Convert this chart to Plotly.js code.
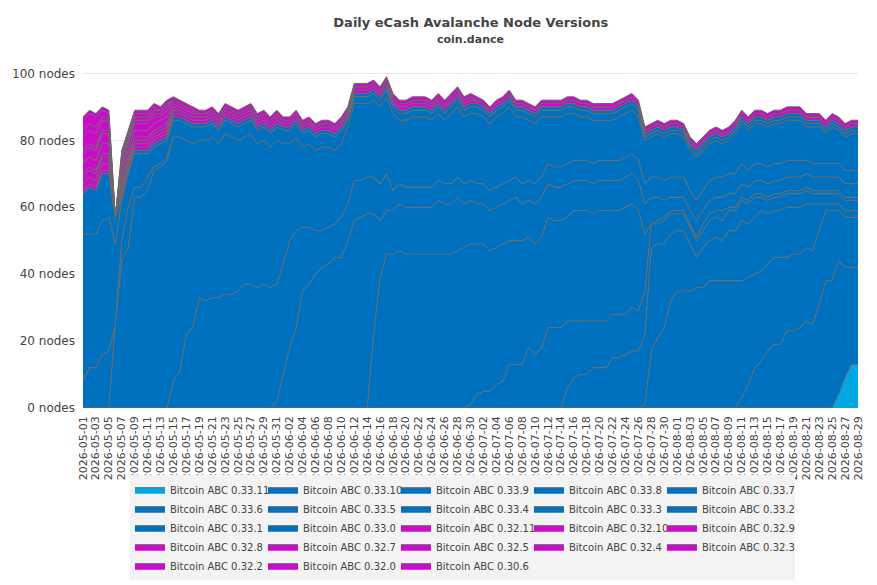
<!DOCTYPE html>
<html>
<head>
<meta charset="utf-8">
<script src="https://cdn.plot.ly/plotly-3.0.1.min.js"></script>
<style>
  html, body { margin: 0; padding: 0; background: #fff; }
  #nodeVersionsChart { width: 877px; height: 585px; }
</style>
</head>
<body>
<div id="nodeVersionsChart"></div>
<script>
// daily node counts per version, 2026-05-01 .. 2026-08-29 (rows of 10 days)
const firstDay = "2026-05-01";
const dayCount = 121;

const abc_0_33_11 = [
  0,0,0,0,0,0,0,0,0,0, 0,0,0,0,0,0,0,0,0,0, 0,0,0,0,0,0,0,0,0,0,
  0,0,0,0,0,0,0,0,0,0, 0,0,0,0,0,0,0,0,0,0, 0,0,0,0,0,0,0,0,0,0,
  0,0,0,0,0,0,0,0,0,0, 0,0,0,0,0,0,0,0,0,0, 0,0,0,0,0,0,0,0,0,0,
  0,0,0,0,0,0,0,0,0,0, 0,0,0,0,0,0,0,0,0,0,
  0,0,0,0,0,0,0,4,9,13,
  13
];
const abc_0_33_10 = [
  0,0,0,0,0,0,0,0,0,0, 0,0,0,0,0,0,0,0,0,0, 0,0,0,0,0,0,0,0,0,0,
  0,0,0,0,0,0,0,0,0,0, 0,0,0,0,0,0,0,0,0,0, 0,0,0,0,0,0,0,0,0,0,
  0,0,0,0,0,0,0,0,0,0, 0,0,0,0,0,0,0,0,0,0, 0,0,0,0,0,0,0,0,0,0,
  0,0,0,0,0,0,0,0,0,0,
  0,0,3,7,12,14,17,19,19,23,
  23,24,26,25,31,38,38,40,33,29,
  29
];
const abc_0_33_9 = [
  0,0,0,0,0,0,0,0,0,0, 0,0,0,0,0,0,0,0,0,0, 0,0,0,0,0,0,0,0,0,0,
  0,0,0,0,0,0,0,0,0,0, 0,0,0,0,0,0,0,0,0,0, 0,0,0,0,0,0,0,0,0,0,
  0,0,0,0,0,0,0,0,0,0, 0,0,0,0,0,0,0,0,0,0,
  0,0,0,0,0,0,0,1,17,21,
  24,32,35,35,35,36,36,38,38,38,
  38,38,35,32,28,27,26,26,26,22,
  23,22,22,22,22,21,21,15,15,15,
  15
];
const abc_0_33_8 = [
  0,0,0,0,0,0,0,0,0,0, 0,0,0,0,0,0,0,0,0,0, 0,0,0,0,0,0,0,0,0,0,
  0,0,0,0,0,0,0,0,0,0, 0,0,0,0,0,0,0,0,0,0, 0,0,0,0,0,0,0,0,0,0,
  0,0,0,0,0,0,0,0,0,0,
  0,0,0,0,0,6,9,10,10,12,
  12,12,15,15,16,17,17,21,31,28,
  25,20,18,18,14,9,12,12,13,12,
  15,15,18,16,17,18,15,14,14,15,
  14,14,13,14,8,2,2,2,2,2,
  2
];
const abc_0_33_7 = [
  0,0,0,0,0,0,0,0,0,0, 0,0,0,0,0,0,0,0,0,0, 0,0,0,0,0,0,0,0,0,0,
  0,0,0,0,0,0,0,0,0,0, 0,0,0,0,0,0,0,0,0,0, 0,0,0,0,0,0,0,0,0,0,
  1,4,5,5,7,8,13,13,13,18,
  16,18,24,24,24,20,17,16,16,14,
  14,14,13,13,12,13,12,13,7,6,
  7,6,5,5,5,5,5,6,6,6,
  6,6,6,6,6,4,4,4,4,4,
  4,4,4,3,3,3,3,3,3,3,
  3
];
const abc_0_33_6 = [
  0,0,0,0,0,0,0,0,0,0, 0,0,0,0,0,0,0,0,0,0, 0,0,0,0,0,0,0,0,0,0,
  0,0,0,0,0,0,0,0,0,0,
  0,0,0,0,0,22,39,46,46,47,
  46,46,46,46,46,46,46,46,47,48,
  48,45,44,42,41,41,37,37,37,33,
  33,33,33,32,32,31,33,33,33,32,
  33,33,31,31,32,31,30,17,0,1,
  1,1,1,1,1,1,2,2,2,3,
  1,1,1,1,1,1,1,1,1,1,
  1,1,1,1,1,1,1,1,1,1,
  1
];
const abc_0_33_5 = [
  0,0,0,0,0,0,0,0,0,0, 0,0,0,0,0,0,0,0,0,0, 0,0,0,0,0,0,0,0,0,0,
  2,10,18,24,35,37,40,42,43,45,
  45,50,56,57,58,36,17,13,13,14,
  14,14,14,14,14,16,15,15,16,13,
  13,12,12,12,12,12,12,13,11,11,
  12,12,10,10,10,10,9,9,9,9,
  9,9,9,9,9,9,9,9,8,7,
  5,4,4,4,4,5,4,4,4,4,
  4,4,4,4,4,4,4,4,4,4,
  4,4,4,4,4,4,4,4,4,4,
  4
];
const abc_0_33_4 = [
  0,0,0,0,0,0,0,0,0,0,
  0,0,0,0,8,11,22,24,33,32,
  33,33,34,34,35,37,37,36,37,36,
  35,33,32,29,19,17,13,11,11,10,
  12,11,12,11,11,11,11,11,6,6,
  6,6,6,6,6,6,6,6,6,6,
  6,6,6,6,6,6,6,6,6,6,
  6,6,6,6,6,6,6,6,6,6,
  6,6,6,6,6,6,6,6,6,6,
  6,6,6,6,6,6,6,6,6,6,
  6,6,6,5,5,5,5,5,5,5,
  5,5,4,4,4,4,4,4,4,4,
  4
];
const abc_0_33_3 = [
  0,0,0,0,0,25,44,48,63,63,
  65,71,72,74,73,70,58,55,47,48,
  48,46,48,47,45,44,45,43,43,42,
  43,36,29,28,24,25,24,25,24,22,
  22,23,23,23,22,23,23,23,23,19,
  20,21,21,21,20,20,19,21,21,20,
  20,21,20,20,21,21,22,18,20,18,
  18,18,14,15,15,15,14,13,13,13,
  12,12,12,13,13,13,13,13,12,13,
  13,13,13,12,12,13,12,11,11,10,
  10,12,12,12,12,12,12,12,12,12,
  12,12,10,11,11,9,11,10,10,11,
  11
];
const abc_0_33_2 = [
  8,12,12,16,17,0,6,12,3,3,
  4,1,1,1,0,0,0,0,0,0,
  0,0,0,0,0,0,0,0,0,0, 0,0,0,0,0,0,0,0,0,0, 0,0,0,0,0,0,0,0,0,0,
  0,0,0,0,0,0,0,0,0,0, 0,0,0,0,0,0,0,0,0,0, 0,0,0,0,0,0,0,0,0,0,
  0,0,0,0,0,0,0,0,0,0, 0,0,0,0,0,0,0,0,0,0, 0,0,0,0,0,0,0,0,0,0,
  0,0,0,0,0,0,0,0,0,0,
  0
];
const abc_0_33_1 = [
  44,40,40,40,40,24,12,10,10,10,
  7,6,6,5,5,5,5,5,4,4,
  4,4,4,4,4,4,4,4,4,4,
  4,4,4,4,4,4,4,4,4,4,
  4,2,2,2,2,2,2,2,2,2,
  2,2,2,2,2,2,2,2,2,2,
  2,2,2,2,2,2,2,2,2,2,
  2,2,2,2,2,2,2,2,2,2,
  2,2,2,2,2,2,2,1,1,1,
  1,1,1,1,1,1,1,1,1,1,
  1,1,1,1,1,1,1,1,1,1,
  1,1,1,1,1,1,1,1,1,1,
  1
];
const abc_0_33_0 = [
  12,14,13,14,13,8,1,1,1,1,
  1,1,1,1,1,1,1,1,1,1, 1,1,1,1,1,1,1,1,1,1, 1,1,1,1,1,1,1,1,1,1,
  1,1,1,1,1,1,1,1,1,1, 1,1,1,1,1,1,1,1,1,1, 1,1,1,1,1,1,1,1,1,1,
  1,1,1,1,1,1,1,1,1,1, 1,1,1,1,1,1,1,1,1,1, 1,1,1,1,1,1,1,1,1,1,
  1,1,1,1,1,1,1,1,1,1, 1,1,1,1,1,1,1,1,1,1,
  1
];

const abc_0_32_11 = [
  1,1,1,1,1,0,1,1,1,1,
  1,1,1,1,1,1,1,1,1,1, 1,1,1,1,1,1,1,1,1,1, 1,1,1,1,1,1,1,1,1,1,
  1,1,1,1,1,1,1,1,1,1, 1,1,1,1,1,1,1,1,1,1, 1,1,1,1,1,1,1,1,1,1,
  1,1,1,1,1,1,1,1,1,1, 1,1,1,1,1,1,1,1,1,1, 1,1,1,1,1,1,1,1,1,1,
  1,1,1,1,1,1,1,1,1,1, 1,1,1,1,1,1,1,1,1,1,
  1
];
const abc_0_32_10 = [
  2,2,2,2,2,0,1,1,1,1,
  1,1,1,1,1,1,1,1,1,1, 1,1,1,1,1,1,1,1,1,1, 1,1,1,1,1,1,1,1,1,1,
  1,1,1,1,1,1,1,1,1,1, 1,1,1,1,1,1,1,1,1,1,
  1,0,0,0,0,0,0,0,0,0,
  0,0,0,0,0,0,0,0,0,0, 0,0,0,0,0,0,0,0,0,0, 0,0,0,0,0,0,0,0,0,0,
  0,0,0,0,0,0,0,0,0,0, 0,0,0,0,0,0,0,0,0,0,
  0
];
const abc_0_32_9 = [
  2,2,2,2,2,0,1,1,1,1,
  1,1,1,1,0,0,0,0,0,0,
  0,0,0,0,0,0,0,0,0,0, 0,0,0,0,0,0,0,0,0,0, 0,0,0,0,0,0,0,0,0,0,
  0,0,0,0,0,0,0,0,0,0, 0,0,0,0,0,0,0,0,0,0, 0,0,0,0,0,0,0,0,0,0,
  0,0,0,0,0,0,0,0,0,0, 0,0,0,0,0,0,0,0,0,0, 0,0,0,0,0,0,0,0,0,0,
  0,0,0,0,0,0,0,0,0,0,
  0
];
const abc_0_32_8 = [
  1,1,1,1,1,0,1,1,1,1,
  1,1,1,1,1,0,0,0,0,0,
  0,0,0,0,0,0,0,0,0,0, 0,0,0,0,0,0,0,0,0,0, 0,0,0,0,0,0,0,0,0,0,
  0,0,0,0,0,0,0,0,0,0, 0,0,0,0,0,0,0,0,0,0, 0,0,0,0,0,0,0,0,0,0,
  0,0,0,0,0,0,0,0,0,0, 0,0,0,0,0,0,0,0,0,0, 0,0,0,0,0,0,0,0,0,0,
  0,0,0,0,0,0,0,0,0,0,
  0
];
const abc_0_32_7 = [
  3,3,3,3,3,0,2,2,2,2,
  2,2,2,2,1,1,1,1,1,1,
  1,1,1,1,1,1,1,1,1,1,
  1,0,0,0,0,0,0,0,0,0,
  0,0,0,0,0,0,0,0,0,0, 0,0,0,0,0,0,0,0,0,0, 0,0,0,0,0,0,0,0,0,0,
  0,0,0,0,0,0,0,0,0,0, 0,0,0,0,0,0,0,0,0,0, 0,0,0,0,0,0,0,0,0,0,
  0,0,0,0,0,0,0,0,0,0, 0,0,0,0,0,0,0,0,0,0,
  0
];
const abc_0_32_5 = [
  3,3,3,3,3,0,2,2,2,2,
  2,2,1,2,1,1,1,1,0,0,
  0,0,0,0,0,0,0,0,0,0, 0,0,0,0,0,0,0,0,0,0, 0,0,0,0,0,0,0,0,0,0,
  0,0,0,0,0,0,0,0,0,0, 0,0,0,0,0,0,0,0,0,0, 0,0,0,0,0,0,0,0,0,0,
  0,0,0,0,0,0,0,0,0,0, 0,0,0,0,0,0,0,0,0,0, 0,0,0,0,0,0,0,0,0,0,
  0,0,0,0,0,0,0,0,0,0,
  0
];
const abc_0_32_4 = [
  1,1,1,1,1,0,1,1,1,1,
  1,1,1,1,0,0,0,0,0,0,
  0,0,0,0,0,0,0,0,0,0, 0,0,0,0,0,0,0,0,0,0, 0,0,0,0,0,0,0,0,0,0,
  0,0,0,0,0,0,0,0,0,0, 0,0,0,0,0,0,0,0,0,0, 0,0,0,0,0,0,0,0,0,0,
  0,0,0,0,0,0,0,0,0,0, 0,0,0,0,0,0,0,0,0,0, 0,0,0,0,0,0,0,0,0,0,
  0,0,0,0,0,0,0,0,0,0,
  0
];
const abc_0_32_3 = [
  4,4,4,3,3,0,2,1,1,1,
  1,1,1,1,0,0,0,0,0,0,
  0,0,0,0,0,0,0,0,0,0, 0,0,0,0,0,0,0,0,0,0, 0,0,0,0,0,0,0,0,0,0,
  0,0,0,0,0,0,0,0,0,0, 0,0,0,0,0,0,0,0,0,0, 0,0,0,0,0,0,0,0,0,0,
  0,0,0,0,0,0,0,0,0,0, 0,0,0,0,0,0,0,0,0,0, 0,0,0,0,0,0,0,0,0,0,
  0,0,0,0,0,0,0,0,0,0,
  0
];
const abc_0_32_2 = [
  2,2,2,1,1,0,1,0,0,0,
  0,0,0,0,0,0,0,0,0,0, 0,0,0,0,0,0,0,0,0,0, 0,0,0,0,0,0,0,0,0,0,
  0,0,0,0,0,0,0,0,0,0, 0,0,0,0,0,0,0,0,0,0, 0,0,0,0,0,0,0,0,0,0,
  0,0,0,0,0,0,0,0,0,0, 0,0,0,0,0,0,0,0,0,0, 0,0,0,0,0,0,0,0,0,0,
  0,0,0,0,0,0,0,0,0,0, 0,0,0,0,0,0,0,0,0,0,
  0
];
const abc_0_32_0 = [
  3,3,3,2,1,0,1,1,1,1,
  1,1,0,0,0,0,0,0,0,0,
  0,0,0,0,0,0,0,0,0,0, 0,0,0,0,0,0,0,0,0,0, 0,0,0,0,0,0,0,0,0,0,
  0,0,0,0,0,0,0,0,0,0, 0,0,0,0,0,0,0,0,0,0, 0,0,0,0,0,0,0,0,0,0,
  0,0,0,0,0,0,0,0,0,0, 0,0,0,0,0,0,0,0,0,0, 0,0,0,0,0,0,0,0,0,0,
  0,0,0,0,0,0,0,0,0,0,
  0
];
const abc_0_30_6 = [
  1,1,1,1,1,0,1,1,1,1,
  1,1,1,1,1,1,1,1,1,1, 1,1,1,1,1,1,1,1,1,1, 1,1,1,1,1,1,1,1,1,1,
  1,1,1,1,1,1,1,1,1,1, 1,1,1,1,1,1,1,1,1,1, 1,1,1,1,1,1,1,1,1,1,
  1,1,1,1,1,1,1,1,1,1, 1,1,1,1,1,1,1,1,1,1, 1,1,1,1,1,1,1,1,1,1,
  1,1,1,1,1,1,1,1,1,1, 1,1,1,1,1,1,1,1,1,1,
  1
];

// bottom of the stack first
const versionSeries = [
  ["Bitcoin ABC 0.33.11", abc_0_33_11, "newest"],
  ["Bitcoin ABC 0.33.10", abc_0_33_10, "current"],
  ["Bitcoin ABC 0.33.9", abc_0_33_9, "current"],
  ["Bitcoin ABC 0.33.8", abc_0_33_8, "current"],
  ["Bitcoin ABC 0.33.7", abc_0_33_7, "current"],
  ["Bitcoin ABC 0.33.6", abc_0_33_6, "current"],
  ["Bitcoin ABC 0.33.5", abc_0_33_5, "current"],
  ["Bitcoin ABC 0.33.4", abc_0_33_4, "current"],
  ["Bitcoin ABC 0.33.3", abc_0_33_3, "current"],
  ["Bitcoin ABC 0.33.2", abc_0_33_2, "current"],
  ["Bitcoin ABC 0.33.1", abc_0_33_1, "current"],
  ["Bitcoin ABC 0.33.0", abc_0_33_0, "current"],
  ["Bitcoin ABC 0.32.11", abc_0_32_11, "old"],
  ["Bitcoin ABC 0.32.10", abc_0_32_10, "old"],
  ["Bitcoin ABC 0.32.9", abc_0_32_9, "old"],
  ["Bitcoin ABC 0.32.8", abc_0_32_8, "old"],
  ["Bitcoin ABC 0.32.7", abc_0_32_7, "old"],
  ["Bitcoin ABC 0.32.5", abc_0_32_5, "old"],
  ["Bitcoin ABC 0.32.4", abc_0_32_4, "old"],
  ["Bitcoin ABC 0.32.3", abc_0_32_3, "old"],
  ["Bitcoin ABC 0.32.2", abc_0_32_2, "old"],
  ["Bitcoin ABC 0.32.0", abc_0_32_0, "old"],
  ["Bitcoin ABC 0.30.6", abc_0_30_6, "old"]
];

const fillColours = { newest: "#00a8e4", current: "#0071bf", old: "#cc0acc" };
const edgeColour = "#6a6a6a";

function buildDates() {
  const start = new Date(firstDay + "T00:00:00Z");
  const days = [];
  for (let d = 0; d < dayCount; d++) {
    const t = new Date(start.getTime() + d * 86400000);
    days.push(t.toISOString().slice(0, 10));
  }
  return days;
}

function createVersionsChart() {
  const dates = buildDates();
  const baseFont = { family: "DejaVu Sans, sans-serif", size: 11, color: "#444" };

  const data = versionSeries.map(([name, counts, group]) => ({
    x: dates,
    y: counts,
    name: name,
    type: "scatter",
    mode: "lines",
    stackgroup: "nodes",
    line: { color: edgeColour, width: 1 },
    fillcolor: fillColours[group],
    marker: { color: fillColours[group] },
    hovertemplate: `<b>%{x}</b><br>${name}: %{y}<extra></extra>`
  }));

  const layout = {
    width: 877,
    height: 585,
    paper_bgcolor: "#fff",
    plot_bgcolor: "#fff",
    font: baseFont,
    margin: { l: 83, r: 19, t: 60, b: 177, autoexpand: false },
    title: {
      text: "<b>Daily eCash Avalanche Node Versions</b>",
      font: { family: "DejaVu Sans, sans-serif", size: 13, color: "#444" },
      x: 0.5368,
      xanchor: "center",
      y: 0.962,
      yanchor: "middle"
    },
    annotations: [{
      text: "<b>coin.dance</b>",
      xref: "paper", yref: "paper",
      x: 0.5, y: 1.06,
      xanchor: "center", yanchor: "middle",
      showarrow: false,
      font: { family: "DejaVu Sans, sans-serif", size: 11, color: "#444" }
    }],
    xaxis: {
      type: "date",
      range: [dates[0], dates[dates.length - 1]],
      tick0: dates[0],
      dtick: 2 * 86400000,
      tickformat: "%Y-%m-%d",
      tickangle: -90,
      showgrid: false,
      zeroline: false,
      showline: false,
      ticks: "",
      ticklabelstandoff: 5,
      tickfont: { size: 11, color: "#444" }
    },
    yaxis: {
      range: [0, 104],
      dtick: 20,
      ticksuffix: " nodes",
      gridcolor: "#e6e6e6",
      zeroline: false,
      ticklabelstandoff: 7,
      tickfont: { size: 12, color: "#444" }
    },
    legend: {
      orientation: "h",
      traceorder: "normal",
      x: 0.0606,
      xanchor: "left",
      y: -0.193,
      yanchor: "top",
      bgcolor: "#f3f3f3",
      entrywidth: 88,
      entrywidthmode: "pixels",
      itemwidth: 30,
      font: { size: 10, color: "#444" }
    },
    showlegend: true
  };

  Plotly.newPlot("nodeVersionsChart", data, layout, { displayModeBar: false, staticPlot: true });
}

document.addEventListener("DOMContentLoaded", createVersionsChart);
</script>
</body>
</html>
